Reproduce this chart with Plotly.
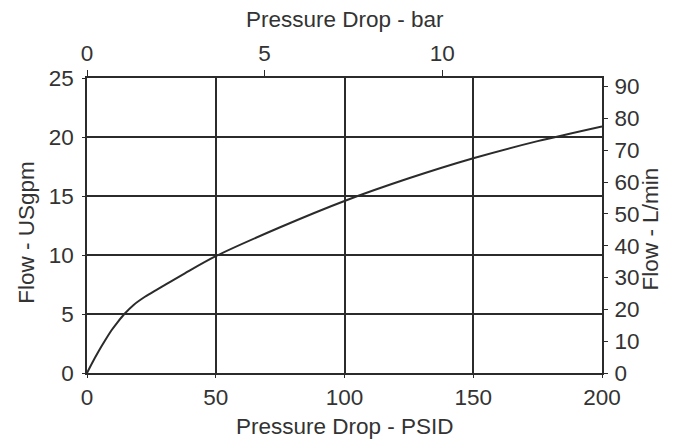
import plotly.graph_objects as go

# curve: pressure drop (PSID) vs flow (USgpm)
psid = [0, 2, 4.4, 7, 9.6, 12, 14.5, 18, 22.5, 27, 30.3, 38, 50, 75, 100, 125, 150, 175, 200]
usgpm = [0, 0.85, 1.8, 2.75, 3.64, 4.34, 5.0, 5.75, 6.46, 7.05, 7.47, 8.45, 9.9, 12.35, 14.58, 16.5, 18.2, 19.65, 20.9]

x_ticks = [0, 50, 100, 150, 200]
bar_ticks = [0, 5, 10]
gpm_ticks = [0, 5, 10, 15, 20, 25]
lpm_ticks = [0, 10, 20, 30, 40, 50, 60, 70, 80, 90]

line_col = '#2b2b2b'
text_col = '#333333'
font = dict(family='Liberation Sans, Arial, sans-serif', size=22.5, color=text_col)

fig = go.Figure()
fig.add_trace(go.Scatter(x=psid, y=usgpm, mode='lines',
                         line=dict(color=line_col, width=2, shape='spline', smoothing=0.8),
                         showlegend=False, hoverinfo='skip'))
# invisible trace to activate the secondary axes
fig.add_trace(go.Scatter(x=[0], y=[0], xaxis='x2', yaxis='y2', mode='markers',
                         marker=dict(opacity=0), showlegend=False, hoverinfo='skip'))

fig.update_layout(
    width=678, height=444,
    margin=dict(l=87, r=76, t=78, b=71),
    paper_bgcolor='white', plot_bgcolor='white',
    font=font,
    xaxis=dict(range=[0, 200], tickvals=x_ticks, showgrid=True, gridcolor=line_col, gridwidth=1.5,
               showline=True, linecolor=line_col, linewidth=1.5, mirror=True, automargin=False,
               ticks='outside', ticklen=3, tickcolor=line_col, zeroline=False, fixedrange=True),
    yaxis=dict(range=[0, 25], tickvals=gpm_ticks, showgrid=True, gridcolor=line_col, gridwidth=1.5,
               showline=True, linecolor=line_col, linewidth=1.5, mirror=True, automargin=False,
               ticks='outside', ticklen=3, tickcolor=line_col, zeroline=False, fixedrange=True,
               ticklabelstandoff=4),
    xaxis2=dict(range=[0, 14.5], tickvals=bar_ticks, overlaying='x', side='top', anchor='y',
                showgrid=False, showline=False, zeroline=False, automargin=False,
                ticks='outside', ticklen=7, tickcolor=line_col, fixedrange=True),
    yaxis2=dict(range=[0, 92.7], tickvals=lpm_ticks, overlaying='y', side='right', anchor='x',
                showgrid=False, showline=False, zeroline=False, automargin=False,
                ticks='outside', ticklen=5, tickcolor=line_col, fixedrange=True,
                ticklabelstandoff=2),
    annotations=[
        dict(text='Pressure Drop - PSID', x=0.5, y=-0.18, xref='paper', yref='paper',
             xanchor='center', yanchor='middle', showarrow=False),
        dict(text='Pressure Drop - bar', x=0.5, y=1.2, xref='paper', yref='paper',
             xanchor='center', yanchor='middle', showarrow=False),
        dict(text='Flow - USgpm', x=-0.117, y=0.478, xref='paper', yref='paper', textangle=-90,
             xanchor='center', yanchor='middle', showarrow=False),
        dict(text='Flow - L/min', x=1.095, y=0.49, xref='paper', yref='paper', textangle=-90,
             xanchor='center', yanchor='middle', showarrow=False),
    ],
)

fig.write_html('out.html', config={'displayModeBar': False},
               post_script="document.body.style.margin='0';")
